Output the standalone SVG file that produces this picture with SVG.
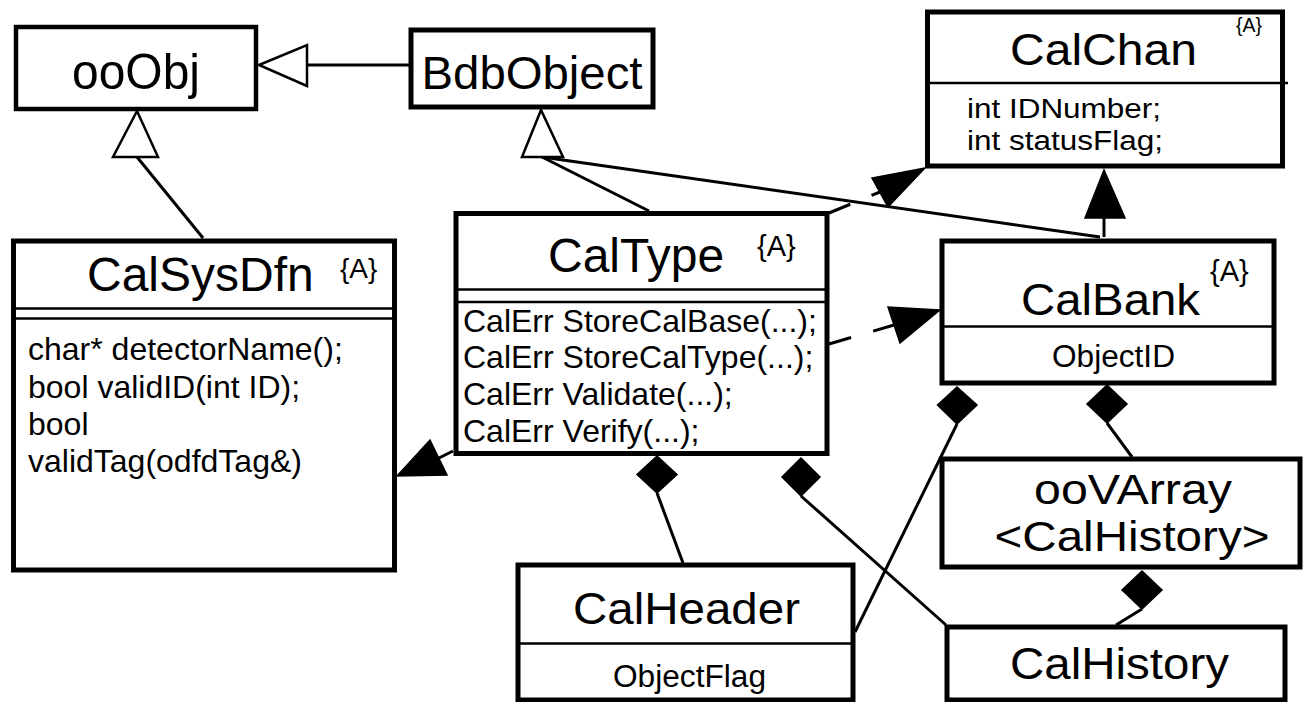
<svg xmlns="http://www.w3.org/2000/svg" width="1306" height="702" viewBox="0 0 1306 702">
<style>
.box{fill:#fff;stroke:#000;stroke-width:5}
.div{stroke:#000;stroke-width:2.5;fill:none}
.t{font-family:"Liberation Sans",Arial,sans-serif;fill:#000}
.ln{stroke:#000;stroke-width:3;fill:none}
.dash{stroke:#000;stroke-width:3;fill:none;stroke-dasharray:23 23}
.gen{fill:#fff;stroke:#000;stroke-width:2.5;stroke-linejoin:miter}
.fill{fill:#000;stroke:#000;stroke-width:1.5;stroke-linejoin:miter}
</style>
<rect width="1306" height="702" fill="#fff"/>
<g id="ooObj">
<rect class="box" x="16" y="27" width="240" height="82" style="stroke-width:4.5"/>
<text class="t" x="136" y="89" font-size="50" text-anchor="middle" textLength="128" lengthAdjust="spacingAndGlyphs">ooObj</text>
</g>
<g id="BdbObject">
<rect class="box" x="411" y="30" width="242" height="77"/>
<text class="t" x="532" y="89" font-size="46" text-anchor="middle" textLength="221" lengthAdjust="spacingAndGlyphs">BdbObject</text>
</g>
<g id="CalChan">
<rect class="box" x="927.5" y="12" width="355" height="154"/>
<line class="div" x1="930" y1="83" x2="1288" y2="83"/>
<text class="t" x="1010" y="65" font-size="45" textLength="187" lengthAdjust="spacingAndGlyphs">CalChan</text>
<text class="t" x="1236" y="32" font-size="21" textLength="26" lengthAdjust="spacingAndGlyphs">{A}</text>
<text class="t" x="967" y="118" font-size="27" textLength="194" lengthAdjust="spacingAndGlyphs">int IDNumber;</text>
<text class="t" x="967" y="150" font-size="27" textLength="196" lengthAdjust="spacingAndGlyphs">int statusFlag;</text>
</g>
<g id="CalSysDfn">
<rect class="box" x="13.5" y="241" width="381" height="329"/>
<line class="div" x1="16" y1="308.5" x2="392" y2="308.5"/>
<line class="div" x1="16" y1="318.5" x2="392" y2="318.5"/>
<text class="t" x="87" y="291" font-size="48">CalSysDfn</text>
<text class="t" x="340" y="278" font-size="28">{A}</text>
<text class="t" x="28" y="360" font-size="32">char* detectorName();</text>
<text class="t" x="28" y="398" font-size="32">bool validID(int ID);</text>
<text class="t" x="28" y="435" font-size="32">bool</text>
<text class="t" x="28" y="472" font-size="32">validTag(odfdTag&amp;)</text>
</g>
<g id="CalType">
<rect class="box" x="456" y="213.5" width="371" height="240"/>
<line class="div" x1="458" y1="289.5" x2="825" y2="289.5"/>
<line class="div" x1="458" y1="302" x2="825" y2="302"/>
<text class="t" x="548" y="272" font-size="48">CalType</text>
<text class="t" x="757" y="256" font-size="29">{A}</text>
<text class="t" x="463" y="332" font-size="32">CalErr StoreCalBase(...);</text>
<text class="t" x="463" y="368" font-size="32">CalErr StoreCalType(...);</text>
<text class="t" x="463" y="405" font-size="32">CalErr Validate(...);</text>
<text class="t" x="463" y="442" font-size="32">CalErr Verify(...);</text>
</g>
<g id="CalBank">
<rect class="box" x="942" y="241" width="332" height="142"/>
<line class="div" x1="944" y1="326.5" x2="1272" y2="326.5"/>
<text class="t" x="1021" y="315" font-size="44" textLength="179" lengthAdjust="spacingAndGlyphs">CalBank</text>
<text class="t" x="1210" y="281" font-size="29">{A}</text>
<text class="t" x="1052" y="367" font-size="31" textLength="123" lengthAdjust="spacingAndGlyphs">ObjectID</text>
</g>
<g id="ooVArray">
<rect class="box" x="942" y="459" width="358" height="108"/>
<text class="t" x="1133" y="504" font-size="42" text-anchor="middle" textLength="198" lengthAdjust="spacingAndGlyphs">ooVArray</text>
<text class="t" x="1132" y="551" font-size="42" text-anchor="middle" textLength="275" lengthAdjust="spacingAndGlyphs">&lt;CalHistory&gt;</text>
</g>
<g id="CalHistory">
<rect class="box" x="947" y="627" width="338" height="73"/>
<text class="t" x="1010" y="679" font-size="44" textLength="219" lengthAdjust="spacingAndGlyphs">CalHistory</text>
</g>
<g id="CalHeader">
<rect class="box" x="518" y="565" width="335" height="135"/>
<line class="div" x1="520" y1="643.5" x2="851" y2="643.5"/>
<text class="t" x="573" y="624" font-size="45" textLength="227" lengthAdjust="spacingAndGlyphs">CalHeader</text>
<text class="t" x="613" y="687" font-size="31" textLength="153" lengthAdjust="spacingAndGlyphs">ObjectFlag</text>
</g>
<g id="connectors">
<line class="ln" x1="307" y1="65" x2="409" y2="65"/>
<polygon class="gen" points="259,65 307,45 307,86"/>
<line class="ln" x1="137" y1="157" x2="203" y2="238"/>
<polygon class="gen" points="137,111 113,157 158,157"/>
<line class="ln" x1="542" y1="157" x2="649" y2="211"/>
<line class="ln" x1="542" y1="157" x2="1100" y2="237"/>
<polygon class="gen" points="541,110 522,157 563,157"/>
<line class="ln" x1="1104" y1="218" x2="1104" y2="237"/>
<polygon class="fill" points="1104,170 1085,218 1125,218"/>
<line class="dash" x1="829" y1="213" x2="880" y2="192"/>
<polygon class="fill" points="925,168 872,178 888,207"/>
<line class="dash" x1="829" y1="344" x2="894" y2="325"/>
<polygon class="fill" points="940,310 888,307 900,343"/>
<line class="ln" x1="453" y1="451" x2="439" y2="458"/>
<polygon class="fill" points="397,476 430,440 447,475"/>
<line class="ln" x1="657" y1="493" x2="683" y2="563"/>
<polygon class="fill" points="657,456 637,474.5 657,493 677,474.5"/>
<line class="ln" x1="801" y1="496" x2="946" y2="625"/>
<polygon class="fill" points="801,458 782,477 801,496 820,477"/>
<line class="ln" x1="957" y1="424" x2="855" y2="632"/>
<polygon class="fill" points="957,387 937.5,405 957,424 977,405"/>
<line class="ln" x1="1107" y1="423" x2="1132" y2="457"/>
<polygon class="fill" points="1107,385 1087,404 1107,423 1127,404"/>
<line class="ln" x1="1142" y1="609" x2="1116" y2="625"/>
<polygon class="fill" points="1142,571 1122,590 1142,609 1162,590"/>
</g>
</svg>
